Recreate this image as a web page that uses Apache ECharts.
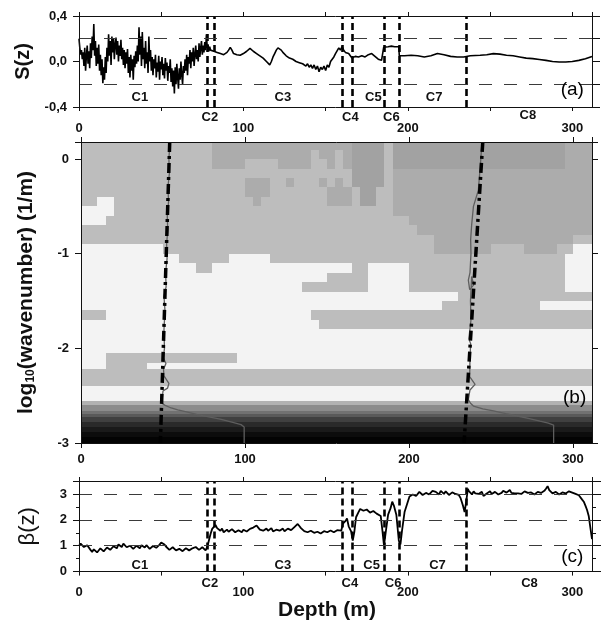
<!DOCTYPE html>
<html><head><meta charset="utf-8">
<script src="https://cdn.jsdelivr.net/npm/echarts@6/dist/echarts.min.js"></script>
<style>html,body{margin:0;padding:0;background:#fff}#c{width:610px;height:622px}</style>
</head><body><div id="c"></div>
<script>
// ---------------- DATA ----------------
// (a) S(z): noisy part sampled every 0.5 m from 0 to 80 m
const sNoisyStep = 0.5;
const sNoisy = [
 0.20,0.12,0.06,0.10,0.02,0.08,-0.04,0.12,-0.08,0.05,
 0.14,-0.02,0.09,-0.06,0.16,0.03,0.22,0.10,0.33,0.05,
 0.18,-0.04,0.12,-0.02,0.15,-0.08,0.06,-0.12,0.02,-0.19,
 -0.05,-0.16,0.04,-0.10,0.12,0.00,0.24,0.05,0.18,-0.03,
 0.22,0.08,0.20,0.02,0.15,0.21,0.06,0.18,0.00,0.14,
 0.05,0.19,0.02,0.12,-0.03,0.10,-0.06,0.08,-0.02,0.11,
 -0.10,0.04,-0.14,0.06,-0.08,0.02,-0.16,0.05,-0.05,0.09,
 -0.02,0.14,0.00,0.30,0.06,0.22,-0.04,0.26,0.02,0.12,
 -0.06,0.18,-0.02,0.08,-0.10,0.22,0.00,0.10,-0.08,0.04,
 -0.12,0.02,-0.06,0.06,-0.14,-0.01,-0.09,0.05,-0.16,0.00,
 -0.07,0.04,-0.12,-0.02,-0.15,0.03,-0.08,-0.01,-0.17,-0.04,
 -0.10,0.02,-0.18,-0.06,-0.22,-0.08,-0.28,-0.05,-0.20,-0.02,
 -0.14,-0.24,-0.06,-0.16,0.00,-0.12,-0.20,-0.04,-0.10,0.02,
 -0.08,0.06,-0.12,0.04,-0.02,0.10,-0.06,0.08,0.00,0.12,
 -0.04,0.06,0.14,0.02,0.10,0.00,0.16,0.04,0.12,0.18,
 0.06,0.14,0.08,0.17,0.10,0.24,0.12,0.15,0.09,0.13,
 0.10
];
// (a) S(z): smoother part [depth, value]
const sSmooth = [
 [81,0.11],[82,0.09],[83,0.10],[84,0.08],[85,0.085],[86,0.07],[87,0.075],[88,0.06],[89,0.07],[90,0.08],
 [91,0.10],[92,0.125],[93,0.10],[94,0.07],[95,0.075],[96,0.06],[97,0.065],[98,0.055],[99,0.06],[100,0.07],
 [101,0.075],[102,0.09],[103,0.10],[104,0.115],[105,0.10],[106,0.09],[107,0.085],[108,0.07],[109,0.065],[110,0.05],
 [111,0.045],[112,0.03],[113,0.025],[114,0.00],[115,-0.01],[116,-0.03],[117,0.00],[118,0.04],[119,0.07],[120,0.10],
 [121,0.12],[122,0.11],[123,0.10],[124,0.08],[125,0.07],[126,0.05],[127,0.045],[128,0.03],[129,0.035],[130,0.02],
 [131,0.025],[132,0.0],[133,0.01],[134,-0.01],[135,0.0],[136,-0.02],[137,-0.01],[138,-0.04],[139,-0.02],[140,-0.05],
 [141,-0.03],[142,-0.06],[143,-0.03],[144,-0.07],[145,-0.04],[146,-0.09],[147,-0.05],[148,-0.07],[149,-0.04],[150,-0.08],
 [151,-0.03],[152,-0.05],[153,0.0],[154,0.02],[155,0.04],[156,0.07],[157,0.08],[158,0.12],[159,0.10],[160,0.13],
 [161,0.10],[162,0.08],[163,0.09],[164,0.07],[165,0.06],[166,0.03],[168,0.045],[170,0.04],[172,0.05],[174,0.04],
 [176,0.06],[178,0.07],[180,0.045],[182,0.02],[184,0.01],[185,0.0],[185.3,0.125],[188,0.13],[190,0.135],[192,0.13],
 [194.5,0.13],[194.8,0.05],[198,0.05],[202,0.055],[206,0.05],[210,0.04],[214,0.05],[218,0.07],[222,0.06],[226,0.045],
 [230,0.04],[234,0.04],[238,0.05],[244,0.055],[248,0.06],[252,0.069],[256,0.065],[260,0.055],[264,0.05],[268,0.04],
 [272,0.03],[276,0.025],[280,0.018],[284,0.01],[288,0.0],[292,-0.004],[296,-0.004],[300,0.0],[304,0.01],[308,0.025],[312,0.045]
];
// (c) beta(z) [depth, value]
const beta = [
 [0,1.00],[1,1.08],[2,1.05],[3,0.95],[4,0.92],[5,1.02],[6,0.98],[7,0.84],[8,0.76],[9,0.86],[10,0.85],[11,0.74],[12,0.80],[13,0.90],
 [14,0.88],[15,0.78],[16,0.82],[17,0.93],[18,0.92],[19,0.84],[20,0.86],[21,0.98],[22,0.96],[23,0.90],[24,1.05],[25,1.00],[26,0.95],
 [27,1.08],[28,1.02],[29,0.94],[30,0.92],[31,1.00],[32,0.98],[33,0.88],[34,0.90],[35,1.00],[36,0.96],[37,0.90],[38,1.02],[39,0.95],
 [40,0.93],[41,1.02],[42,0.98],[43,0.88],[44,0.90],[45,0.99],[46,1.00],[47,0.92],[48,0.94],[49,1.04],[50,1.12],[51,1.18],[52,1.05],
 [53,0.96],[54,0.92],[55,0.84],[56,0.86],[57,0.94],[58,0.90],[59,0.82],[60,0.80],[61,0.88],[62,0.86],[63,0.79],[64,0.82],[65,0.90],
 [66,0.88],[67,0.82],[68,0.80],[69,0.90],[70,0.86],[71,0.95],[72,0.92],[73,0.84],[74,0.85],[75,0.94],[76,0.90],[77,0.82],[78,0.95],
 [79,1.20],[80,1.45],[81,1.65],[82,1.62],[83,1.80],[84,1.68],[85,1.62],[86,1.58],[87,1.66],[88,1.52],[89,1.57],[90,1.62],[91,1.54],
 [92,1.55],[93,1.64],[94,1.60],[95,1.52],[96,1.50],[97,1.60],[98,1.58],[99,1.52],[100,1.62],[101,1.66],[102,1.55],[103,1.60],[104,1.65],
 [105,1.72],[106,1.70],[107,1.64],[108,1.78],[109,1.70],[110,1.62],[111,1.66],[112,1.58],[113,1.64],[114,1.66],[115,1.58],[116,1.60],
 [117,1.68],[118,1.55],[119,1.58],[120,1.62],[121,1.66],[122,1.58],[123,1.63],[124,1.66],[125,1.56],[126,1.60],[127,1.66],[128,1.70],
 [129,1.60],[130,1.62],[131,1.72],[132,1.78],[133,1.84],[134,1.76],[135,1.68],[136,1.65],[137,1.56],[138,1.58],[139,1.52],[140,1.50],
 [141,1.58],[142,1.56],[143,1.50],[144,1.48],[145,1.54],[146,1.55],[147,1.47],[148,1.50],[149,1.56],[150,1.58],[151,1.52],[152,1.52],
 [153,1.59],[154,1.60],[155,1.52],[156,1.55],[157,1.60],[158,1.62],[159.5,1.58],[160.5,1.85],[162,1.95],[163,2.05],[164,1.75],
 [165.5,1.55],[166.5,1.20],[167.5,1.55],[168.5,2.10],[170,2.30],[171,2.42],[172,2.45],[173,2.35],[174,2.30],[175,2.40],[176,2.38],
 [177,2.28],[178,2.25],[179,2.34],[180,2.32],[181,2.24],[182,2.20],[183.5,2.15],[184.5,1.60],[185.5,1.00],[186.5,1.50],[188,2.20],
 [189.5,2.45],[190.5,2.70],[191.5,2.55],[193,2.20],[194.5,1.20],[195.5,1.05],[196.5,1.60],[198,2.30],[199.5,2.60],[201,2.90],[202,2.85],
 [203,2.98],[204,3.00],[205,2.92],[206,2.95],[207,3.08],[208,3.05],[209,2.96],[210,2.95],[211,3.04],[212,3.10],[213,2.98],[214,3.02],
 [215,3.12],[216,3.18],[217,3.08],[218,3.05],[219,2.98],[220,3.12],[221,3.06],[222,3.00],[223,3.10],[224,3.08],[225,2.96],[226,2.98],
 [227,3.06],[228,3.10],[229,3.00],[230,3.02],[231,2.96],[232,2.85],[233.5,2.55],[234.5,2.30],[235.5,2.70],[236.5,3.20],[237,3.12],
 [238,3.05],[239,2.98],[240,3.10],[241,3.02],[242,2.95],[243,3.00],[244,3.05],[245,3.08],[246,2.92],[247,2.96],[248,3.02],[249,3.06],
 [250,3.10],[251,3.00],[252,2.98],[253,3.08],[254,3.06],[255,2.98],[256,2.95],[257,3.04],[258,3.12],[259,3.08],[260,3.05],[261,3.10],
 [262,3.15],[263,3.04],[264,3.00],[265,3.02],[266,3.08],[267,3.02],[268,2.96],[269,3.00],[270,3.04],[271,3.10],[272,3.12],[273,3.04],
 [274,3.00],[275,3.06],[276,3.08],[277,2.98],[278,3.02],[279,3.08],[280,3.10],[281,3.04],[282,3.05],[283,3.12],[284,3.20],[285,3.30],
 [286,3.15],[287,3.08],[288,3.02],[289,3.00],[290,3.08],[291,3.04],[292,2.98],[293,3.02],[294,3.06],[295,3.00],[296,3.02],[297,3.08],
 [298,3.10],[299,3.04],[300,3.05],[301,3.06],[302,3.00],[303,2.98],[304,2.95],[305,2.90],[306,2.78],[307,2.70],[308,2.55],[309,2.38],
 [310,2.15],[311,1.70],[312,1.25]
];
// segment boundaries (m) and labels [depth, value, text]
const boundaries = [78, 82, 160, 166, 185.5, 195, 235.5];
const segLabelsA = [[37,-0.32,'C1'],[79.6,-0.49,'C2'],[124,-0.32,'C3'],[165,-0.49,'C4'],[179,-0.32,'C5'],[190,-0.49,'C6'],[216,-0.32,'C7'],[273,-0.47,'C8']];
const segLabelsC = [[37,0.25,'C1'],[79.6,-0.45,'C2'],[124,0.25,'C3'],[164.7,-0.45,'C4'],[178,0.25,'C5'],[191,-0.45,'C6'],[218,0.25,'C7'],[274,-0.45,'C8']];
const tagA = [[300,-0.25,'(a)']];
const tagB = [[301,-2.52,'(b)']];
const tagC = [[300,0.58,'(c)']];
const sRefLevels = [0.2, -0.2];
const betaRefLevels = [1, 2, 3];
// axis ranges
const depthMax = 312;
const depthMaxB = 311.6;
const sTicks = [-0.4, 0.4, 0.4];   // min, max, interval
const logTicks = [-3, 0.18, 1];
const betaTicks = [0, 3.5, 1];

// (b) contour map: rows of 5 m columns, level codes, row edges in log10(wavenumber)
const colWidth = 5;
const rowEdges = [0.2,0.1,0,-0.1,-0.2,-0.3,-0.4,-0.5,-0.6,-0.7,-0.8,-0.9,-1.0,-1.1,-1.2,-1.3,-1.4,-1.5,-1.6,-1.7,-1.8,-1.9,-2.0,
  -2.05,-2.15,-2.22,-2.4,-2.56,-2.6,-2.66,-2.69,-2.73,-2.78,-2.83,-2.88,-2.94,-3.0];
const contourRows = [
 "1111111111 1111112222 2222222222 2223333133 3333333333 3333333332 222",
 "1111111111 1111112222 2222222212 2123333133 3333333333 3333333332 222",
 "1111111111 1111112222 1111222211 2123333133 3333333333 3333333332 222",
 "1111111111 1111111111 1111111111 1113333122 2222222222 2222222222 222",
 "1111111111 1111111111 2221121112 1213333122 2222222222 2222222222 222",
 "1111111111 1111111111 2221111111 2221331122 2222222222 2222222222 222",
 "1100111111 1111111111 1211111111 2221331122 2222222222 2222222222 222",
 "0000111111 1111111111 1111111111 1111111122 2222222222 2222222222 222",
 "0001111111 1111111111 1111111111 1111111111 2222222222 2222222222 222",
 "1111111111 1111111111 1111111111 1111111111 1222222222 2222222222 222",
 "1111111111 1111111111 1111111111 1111111111 1112222222 2222222222 111",
 "0000000000 1111111111 1111111111 1111111111 1112222222 1111222211 000",
 "0000000000 0011111100 0001111111 1111111111 1111111111 1111111110 000",
 "0000000000 0000110000 0000000000 0001100000 1111111111 1111111110 000",
 "0000000000 0000000000 0000000000 1111100000 1111111111 1111111110 000",
 "0000000000 0000000000 0000000111 1111100000 1111111111 1111111110 000",
 "0000000000 0000000000 0000000000 0000000000 0000001111 1111111111 111",
 "0000000000 0000000000 0000000000 0000000000 0000111111 1111110000 000",
 "1110000000 0000000000 0000000011 1111111111 1111111111 1111111111 111",
 "0000000000 0000000000 0000000001 1111111111 1111111111 1111111111 111",
 "0",
 "0",
 "0",
 "0001111111 1111111110 0000000000 0000000000 0000000000 0000000000 000",
 "0001111100 0000000000 0000000000 0000000000 0000000000 0000000000 000",
 "1",
 "0",
 "a","b","c","d","e","f","g","h","i"
];
const levelKeys = '0123abcdefghi';
const levelColors = ['#f3f3f3','#bdbdbd','#acacac','#a2a2a2','#b2b2b2','#8c8c8c','#727272','#5a5a5a','#404040','#2a2a2a','#1a1a1a','#0c0c0c','#030303'];
// (b) overlay curves
const dashDot1 = [[54.1,0.18],[48.4,-3.0]];
const dashDot2 = [[245,0.18],[233.6,-3.0]];
const spec1 = [[54.2,0.18],[53.6,0.0],[53.9,-0.15],[53,-0.3],[53.4,-0.45],[52.6,-0.6],[52.9,-0.75],[52.2,-0.9],[52.5,-1.05],[51.6,-1.2],
 [51.9,-1.35],[50.6,-1.45],[51.2,-1.6],[50.6,-1.8],[50.9,-2.0],[50.2,-2.1],[51.8,-2.16],[50.3,-2.22],[50.6,-2.29],[53.6,-2.37],[52.8,-2.42],
 [50.0,-2.45],[49.6,-2.52],[49.4,-2.58],[51,-2.6],[55,-2.63],[59,-2.65],[65,-2.675],[71,-2.7],[78,-2.725],[85.5,-2.75],[92,-2.78],
 [97.6,-2.806],[99.5,-2.83],[99.5,-3.0]];
const spec2 = [[244.5,0.18],[243.8,0.0],[242.3,-0.33],[239.3,-0.5],[238.2,-0.7],[237.6,-0.85],[237.8,-1.0],[237.2,-1.2],[236.2,-1.28],
 [237,-1.38],[239.5,-1.33],[238.2,-1.24],[237.5,-1.5],[237.8,-1.7],[236.5,-1.9],[237.6,-1.95],[237.2,-2.1],[237.0,-2.3],[240.3,-2.38],
 [237.2,-2.44],[236.2,-2.54],[237.5,-2.58],[239.3,-2.61],[245,-2.64],[251.5,-2.66],[259,-2.69],[267.7,-2.72],[274,-2.745],[279.9,-2.77],
 [285,-2.79],[288.2,-2.81],[288.2,-3.0]];

// ---------------- BUILD ----------------
const FONT = "'Liberation Sans', Arial, sans-serif";
const sSeries = sNoisy.map((v, i) => [i * sNoisyStep, v]).concat(sSmooth);

function buildCells() {
  const cells = [];
  for (let r = 0; r < contourRows.length; r++) {
    const row = contourRows[r].replace(/ /g, '');
    const yTop = rowEdges[r], yBot = rowEdges[r + 1];
    if (row.length === 1) { cells.push([0, 63 * colWidth, yTop, yBot, levelKeys.indexOf(row)]); continue; }
    let start = 0;
    for (let c = 1; c <= row.length; c++) {
      if (c === row.length || row[c] !== row[start]) {
        cells.push([start * colWidth, c * colWidth, yTop, yBot, levelKeys.indexOf(row[start])]);
        start = c;
      }
    }
  }
  return cells;
}

const labelStyle = {fontFamily: FONT, fontWeight: 'bold', fontSize: 13, color: '#111'};
const axisLineStyle = {show: true, lineStyle: {color: '#111', width: 1}};
const xFmt = v => (Math.abs(v % 100) < 1e-6 ? String(v) : '');

function xAx(grid, max, pos, interval, showLabel, margin, tickLen) {
  return {
    gridIndex: grid, type: 'value', min: 0, max: max, interval: interval, position: pos, z: 10,
    axisLine: Object.assign({onZero: false}, axisLineStyle),
    axisTick: {show: true, inside: false, length: tickLen, lineStyle: {color: '#111'}},
    axisLabel: showLabel ? Object.assign({show: true, margin: margin, formatter: xFmt, showMaxLabel: false}, labelStyle) : {show: false},
    splitLine: {show: false}
  };
}
function yAx(grid, t, pos, interval, showLabel, fmt, tickLen) {
  return {
    gridIndex: grid, type: 'value', min: t[0], max: t[1], interval: interval, position: pos, z: 10,
    axisLine: Object.assign({onZero: false}, axisLineStyle),
    axisTick: {show: true, inside: false, length: tickLen, lineStyle: {color: '#111'}},
    axisLabel: showLabel ? Object.assign({show: true, margin: 12, formatter: fmt}, labelStyle) : {show: false},
    splitLine: {show: false}
  };
}

const vLines = boundaries.map(b => ({xAxis: b, lineStyle: {color: '#000', width: 2.6, type: [7, 4]}}));
const hRefStyle = {color: '#3a3a3a', width: 1, type: [13, 12]};

function textSeries(xi, yi, data, style) {
  return {
    type: 'scatter', xAxisIndex: xi, yAxisIndex: yi, data: data, symbolSize: 0, clip: false, silent: true, z: 20,
    itemStyle: {opacity: 1},
    label: Object.assign({show: true, position: 'inside', formatter: p => p.value[2]}, style)
  };
}
const tagStyle = {fontFamily: FONT, fontSize: 19, color: '#000', fontWeight: 'normal'};

const chart = echarts.init(document.getElementById('c'), null, {renderer: 'canvas'});
const option = {
  animation: false,
  backgroundColor: '#fff',
  grid: [
    {left: 79, top: 16, width: 513, height: 91},
    {left: 81, top: 142, width: 511, height: 301},
    {left: 79, top: 481, width: 513, height: 95}
  ],
  xAxis: [
    xAx(0, depthMax, 'bottom', 50, true, 14.5, 4),
    xAx(0, depthMax, 'top', 50, false, 0, 4),
    xAx(1, depthMaxB, 'bottom', 100, true, 9.5, 5),
    xAx(1, depthMaxB, 'top', 100, false, 0, 5),
    Object.assign(xAx(2, depthMax, 'bottom', 50, true, 14.5, 4), {
      name: 'Depth (m)', nameLocation: 'middle', nameGap: 24,
      nameTextStyle: {fontFamily: FONT, fontWeight: 'bold', fontSize: 21, color: '#111', padding: [0, 17, 0, 0]}
    }),
    xAx(2, depthMax, 'top', 50, false, 0, 4)
  ],
  yAxis: [
    Object.assign(yAx(0, sTicks, 'left', sTicks[2], true, v => v.toFixed(1).replace('.', ','), 6), {
      name: 'S(z)', nameLocation: 'middle', nameGap: 42, nameRotate: 90,
      nameTextStyle: {fontFamily: FONT, fontWeight: 'bold', fontSize: 20, color: '#111'}
    }),
    yAx(0, sTicks, 'right', 0.2, false, null, 8),
    Object.assign(yAx(1, logTicks, 'left', logTicks[2], true, v => (Number.isInteger(v) ? String(v) : ''), 6), {
      name: '{a|log}{s|10}{a|(wavenumber) (1/m)}', nameLocation: 'middle', nameGap: 44, nameRotate: 90,
      nameTextStyle: {
        fontFamily: FONT, fontWeight: 'bold', fontSize: 21, color: '#111',
        rich: {
          a: {fontFamily: FONT, fontWeight: 'bold', fontSize: 21, color: '#111'},
          s: {fontFamily: FONT, fontWeight: 'bold', fontSize: 12, color: '#111', verticalAlign: 'bottom', padding: [8, 0, 0, 0]}
        }
      }
    }),
    yAx(1, logTicks, 'right', logTicks[2], false, null, 6),
    Object.assign(yAx(2, betaTicks, 'left', betaTicks[2], true, v => (Number.isInteger(v) ? String(v) : ''), 6), {
      minorTick: {show: true, splitNumber: 2, length: 3, lineStyle: {color: '#111'}},
      name: 'β(z)', nameLocation: 'middle', nameGap: 40, nameRotate: 90,
      nameTextStyle: {fontFamily: FONT, fontWeight: 'normal', fontSize: 22, color: '#111'}
    }),
    Object.assign(yAx(2, betaTicks, 'right', 1, false, null, 9), {
      minorTick: {show: true, splitNumber: 2, length: 4, lineStyle: {color: '#111'}}
    })
  ],
  series: [
    // (a)
    {
      type: 'line', xAxisIndex: 0, yAxisIndex: 0, data: sSeries, showSymbol: false, symbol: 'none', z: 3,
      lineStyle: {color: '#000', width: 1.6},
      markLine: {
        silent: true, symbol: ['none', 'none'], label: {show: false}, animation: false,
        data: vLines.concat(sRefLevels.map(v => ({yAxis: v, lineStyle: hRefStyle})))
      }
    },
    textSeries(0, 0, segLabelsA, labelStyle),
    textSeries(0, 0, tagA, tagStyle),
    // (b)
    {
      type: 'custom', xAxisIndex: 2, yAxisIndex: 2, data: buildCells(), z: 1, silent: true,
      encode: {x: [0, 1], y: [2, 3]},
      renderItem: function (params, api) {
        const a = api.coord([api.value(0), api.value(2)]);
        const b = api.coord([api.value(1), api.value(3)]);
        const cs = params.coordSys;
        const x0 = Math.round(a[0]), x1 = Math.round(b[0]), y0 = Math.round(a[1]), y1 = Math.round(b[1]);
        const shape = echarts.graphic.clipRectByRect(
          {x: x0, y: y0, width: x1 - x0, height: y1 - y0},
          {x: cs.x, y: cs.y, width: cs.width, height: cs.height});
        if (!shape) return null;
        return {type: 'rect', shape: shape, style: {fill: levelColors[api.value(4)]}};
      }
    },
    {type: 'line', xAxisIndex: 2, yAxisIndex: 2, data: spec1, showSymbol: false, symbol: 'none', z: 4, lineStyle: {color: '#5e5e5e', width: 1.3}},
    {type: 'line', xAxisIndex: 2, yAxisIndex: 2, data: spec2, showSymbol: false, symbol: 'none', z: 4, lineStyle: {color: '#5e5e5e', width: 1.3}},
    {type: 'line', xAxisIndex: 2, yAxisIndex: 2, data: dashDot1, showSymbol: false, symbol: 'none', z: 5, lineStyle: {color: '#000', width: 3.5, type: [10, 4, 3, 4]}},
    {type: 'line', xAxisIndex: 2, yAxisIndex: 2, data: dashDot2, showSymbol: false, symbol: 'none', z: 5, lineStyle: {color: '#000', width: 3.5, type: [10, 4, 3, 4]}},
    textSeries(2, 2, tagB, tagStyle),
    // (c)
    {
      type: 'line', xAxisIndex: 4, yAxisIndex: 4, data: beta, showSymbol: false, symbol: 'none', z: 3,
      lineStyle: {color: '#000', width: 1.8},
      markLine: {
        silent: true, symbol: ['none', 'none'], label: {show: false}, animation: false,
        data: vLines.concat(betaRefLevels.map(v => ({yAxis: v, lineStyle: hRefStyle})))
      }
    },
    textSeries(4, 4, segLabelsC, labelStyle),
    textSeries(4, 4, tagC, tagStyle)
  ]
};
chart.setOption(option);
</script>
</body></html>
